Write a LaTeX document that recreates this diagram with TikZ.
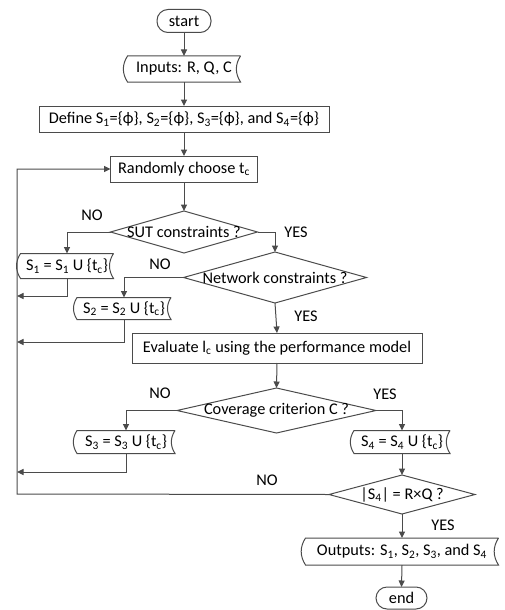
\documentclass[tikz,border=0pt]{standalone}
\usepackage{fontspec}
\setmainfont{Carlito}
\usetikzlibrary{arrows.meta,shapes.geometric}
\definecolor{ln}{RGB}{75,75,75}
\newcommand{\sbs}[1]{\textsubscript{#1}}
\newcommand{\ph}{\symbol{"03D5}}
\begin{document}
\begin{tikzpicture}[x=1pt,y=-1pt,
  font=\fontsize{16.3}{19}\selectfont,
  every node/.style={inner sep=0pt, outer sep=0pt},
  line/.style={draw=ln, line width=1pt},
  arr/.style={line, -{Triangle[width=6pt,length=6.5pt]}},
  term/.style={line, rectangle, rounded corners=11pt},
  box/.style={line, rectangle},
  stored/.style={rectangle},
  dia/.style={line, diamond}
]
\useasboundingbox (0,0) rectangle (505,610);

% nodes
\node[term, minimum width=54, minimum height=23] (start) at (184,21) {start};
\node[stored, minimum width=113, minimum height=26] (inp) at (184,69) {Inputs: R, Q, C};
\node[box, minimum width=290, minimum height=26] (def) at (184,119) {Define S\sbs{1}=\{\ph\}, S\sbs{2}=\{\ph\}, S\sbs{3}=\{\ph\}, and S\sbs{4}=\{\ph\}};
\node[box, minimum width=147, minimum height=26] (rand) at (184,169) {Randomly choose t\sbs{c}};
\node[dia, minimum width=147, minimum height=42] (sut) at (184,232) {\makebox[0pt]{SUT constraints ?}};
\node[stored, minimum width=93, minimum height=25] (s1) at (67,266) {S\sbs{1} = S\sbs{1} U \{t\sbs{c}\}};
\node[dia, minimum width=183, minimum height=51] (net) at (275,277.5) {\makebox[0pt]{Network constraints ?}};
\node[stored, minimum width=94, minimum height=22] (s2) at (124,308.5) {S\sbs{2} = S\sbs{2} U \{t\sbs{c}\}};
\node[box, minimum width=290, minimum height=30] (eval) at (277,348) {Evaluate l\sbs{c} using the performance model};
\node[dia, minimum width=199, minimum height=45] (cov) at (276.5,410.5) {\makebox[0pt]{Coverage criterion C ?}};
\node[stored, minimum width=98, minimum height=23] (s3) at (126,442) {S\sbs{3} = S\sbs{3} U \{t\sbs{c}\}};
\node[stored, minimum width=96, minimum height=23] (s4) at (402,442) {S\sbs{4} = S\sbs{4} U \{t\sbs{c}\}};
\node[dia, minimum width=146, minimum height=39] (d4) at (402,494.5) {\makebox[0pt]{|S\sbs{4}| = R×Q ?}};
\node[stored, minimum width=193, minimum height=27] (out) at (402,551.5) {Outputs: S\sbs{1}, S\sbs{2}, S\sbs{3}, and S\sbs{4}};
\node[term, minimum width=51, minimum height=22] (end) at (401.5,598) {end};

% stored data outlines
\foreach \n in {inp,s1,s2,s3,s4,out}
  \draw[line] (\n.north east) -- (\n.north west) to[out=237,in=123] (\n.south west)
    -- (\n.south east) to[out=123,in=237] (\n.north east);

% labels
\node at (92,215) {NO};
\node at (296,232) {YES};
\node at (160,264) {NO};
\node at (306,316) {YES};
\node at (160,393) {NO};
\node at (385,394) {YES};
\node at (267,480) {NO};
\node at (443,525) {YES};

% feedback points
\coordinate (fb1) at (17,296);
\coordinate (fb2) at (17,342);
\coordinate (fb3) at (17,472);
\coordinate (fb) at (17,494);

% connectors
\draw[arr] (start) -- (inp);
\draw[arr] (inp) -- (def);
\draw[arr] (def) -- (rand);
\draw[arr] (rand) -- (sut);
\draw[arr] (sut.west) -| (s1.north);
\draw[arr] (sut.east) -| (net.north);
\draw[arr] (s1.south) |- (fb1);
\draw[arr] (net.west) -| (s2.north);
\draw[arr] (s2.south) |- (fb2);
\draw[arr] (net.south) -- (eval.north);
\draw[arr] (eval.south) -- (cov.north);
\draw[arr] (cov.west) -| (s3.north);
\draw[arr] (cov.east) -| (s4.north);
\draw[arr] (s3.south) |- (fb3);
\draw[arr] (s4.south) -- (d4.north);
\draw[arr] (d4.west) -- (fb) |- (rand.west);
\draw[arr] (d4.south) -- (out.north);
\draw[arr] (out.south) -- (end.north);
\end{tikzpicture}
\end{document}
